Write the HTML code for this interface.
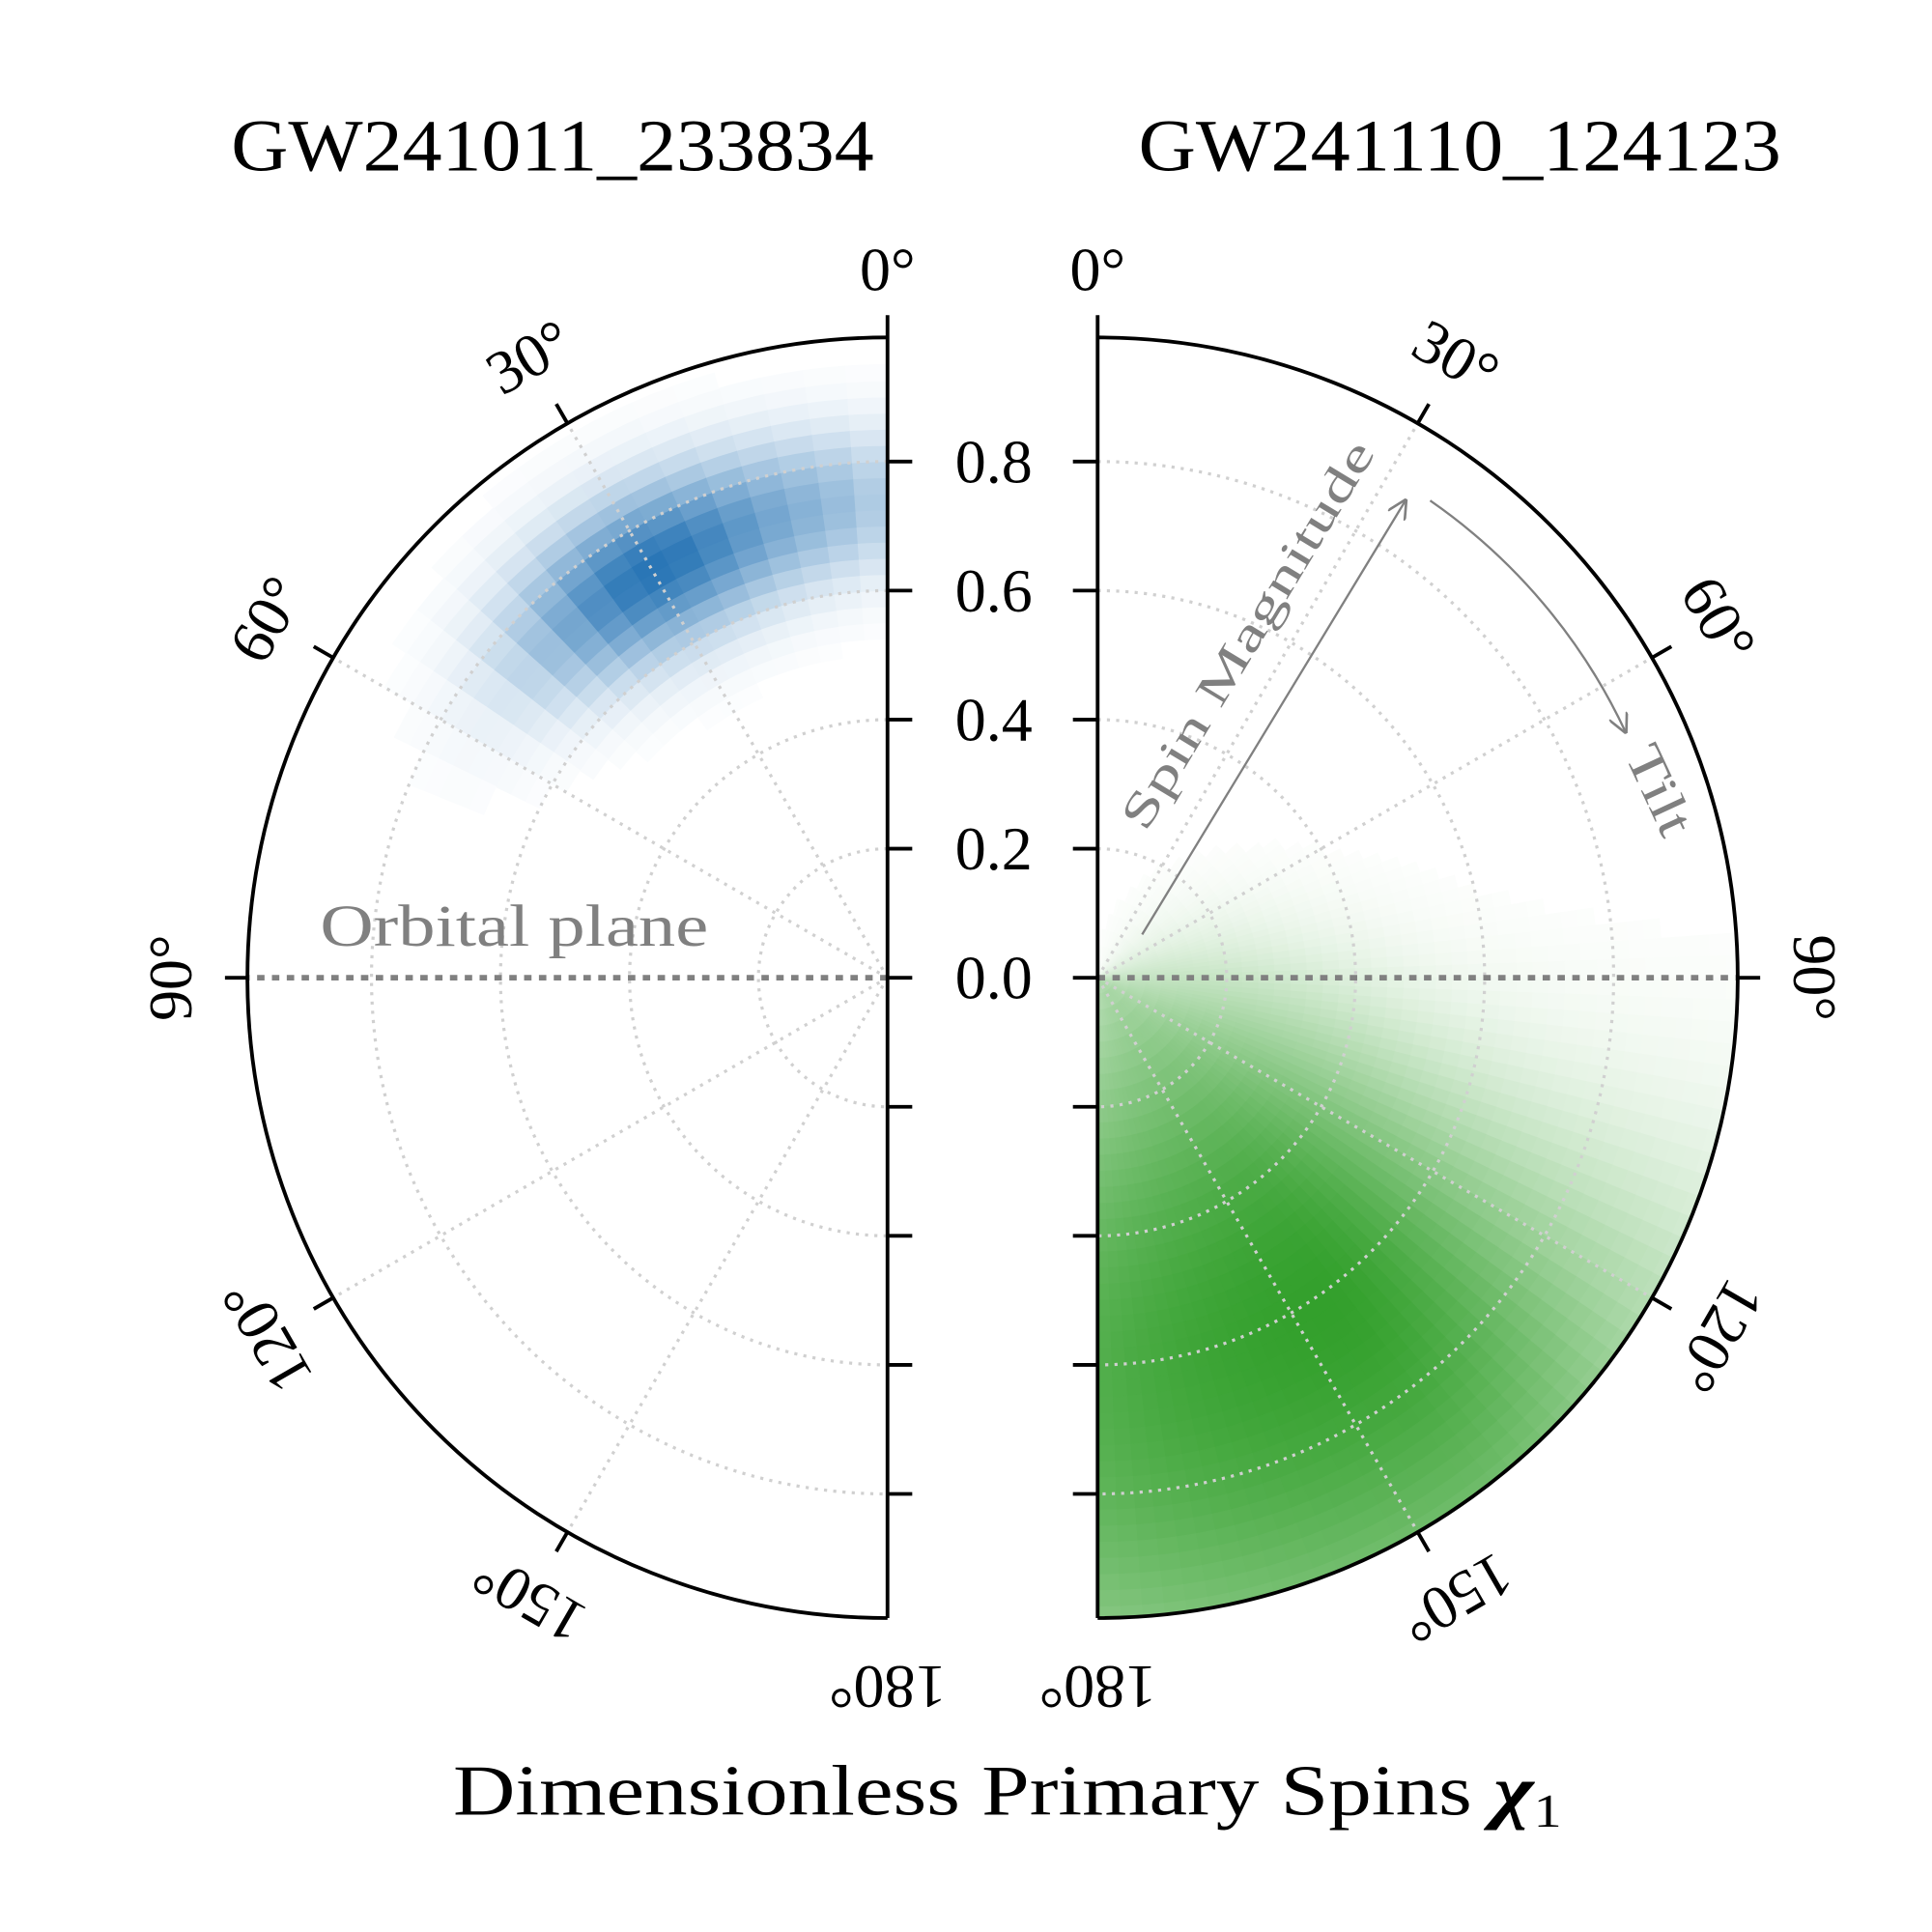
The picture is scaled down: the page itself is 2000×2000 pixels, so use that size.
<!DOCTYPE html>
<html><head><meta charset="utf-8"><style>
html,body{margin:0;padding:0;background:#fff}
svg{display:block}
text{font-family:"Liberation Serif","DejaVu Serif",serif}
</style></head><body>
<svg id="s" width="2000" height="2000" viewBox="0 0 1563 1563" xmlns="http://www.w3.org/2000/svg">
<defs>
<clipPath id="cl"><path d="M718,273 A518,518 0 0 0 718,1309 Z"/></clipPath>
<clipPath id="cr"><path d="M888,273 A518,518 0 0 1 888,1309 Z"/></clipPath>
<marker id="ah" viewBox="0 0 10 10" refX="9" refY="5" markerWidth="16" markerHeight="16" markerUnits="userSpaceOnUse" orient="auto"><path d="M0,0 L10,5 L0,10" fill="none" stroke="#808080" stroke-width="1.3"/></marker>
</defs>
<g id="hl" clip-path="url(#cl)"></g>
<g id="hr" clip-path="url(#cr)"></g>
<g id="g"></g>
<text x="447" y="138" font-size="60" text-anchor="middle" textLength="520" lengthAdjust="spacingAndGlyphs">GW241011_233834</text>
<text x="1181" y="138" font-size="60" text-anchor="middle" textLength="520" lengthAdjust="spacingAndGlyphs">GW241110_124123</text>
<text x="815" y="1468" font-size="58" text-anchor="middle" textLength="897" lengthAdjust="spacingAndGlyphs">Dimensionless Primary Spins <tspan font-weight="bold" font-style="italic">χ</tspan><tspan font-size="38" dy="10">1</tspan></text>
<text x="416" y="765" font-size="48" fill="#808080" text-anchor="middle" textLength="314" lengthAdjust="spacingAndGlyphs">Orbital plane</text>
<text transform="translate(1020,520) rotate(-58.8)" font-size="38" fill="#808080" text-anchor="middle" textLength="360" lengthAdjust="spacingAndGlyphs">Spin Magnitude</text>
<text transform="translate(1330,645) rotate(65)" font-size="42" fill="#808080" text-anchor="middle" textLength="76" lengthAdjust="spacingAndGlyphs">Tilt</text>
<line x1="924" y1="756" x2="1137" y2="405" stroke="#808080" stroke-width="1.8" marker-end="url(#ah)"/>
<path d="M1157,405 A470,470 0 0 1 1315,592" fill="none" stroke="#808080" stroke-width="1.8" marker-end="url(#ah)"/>
</svg>
<script>
var NS="http://www.w3.org/2000/svg",U=522;
function el(p,t,a){var e=document.createElementNS(NS,t);for(var k in a)e.setAttribute(k,a[k]);p.appendChild(e);return e;}
function pt(cx,cy,side,r,th){var a=th*Math.PI/180;return [cx+side*r*Math.sin(a),cy-r*Math.cos(a)];}
function mix(c,v){v=Math.min(v,1);return "rgb("+c.map(function(x){return Math.round(255*(1-v)+x*v)}).join(",")+")";}
function heat(gid,cx,side,col,f,dt){
 var g=document.getElementById(gid),dr=0.025;
 for(var t=0;t<180;t+=dt)for(var r=0;r<1.0;r+=dr){
  var v=f(r+dr/2,t+dt/2);if(v<0.015)continue;
  var r0=r*U,r1=(r+dr)*U;
  var a=pt(cx,791,side,r0,t),b=pt(cx,791,side,r1,t),c=pt(cx,791,side,r1,t+dt),d=pt(cx,791,side,r0,t+dt);
  var sw=side>0?1:0,fc=mix(col,v);
  el(g,"path",{d:"M"+a+"L"+b+"A"+r1+","+r1+" 0 0 "+sw+" "+c+"L"+d+(r0>0?"A"+r0+","+r0+" 0 0 "+(1-sw)+" "+a:"")+"Z",fill:fc,stroke:fc,"stroke-width":0.8});
 }}
heat("hl",718,-1,[31,111,178],function(r,t){
 var a=Math.exp(-Math.pow((t-30)/13,2)/2)*Math.exp(-Math.pow((r-0.73)/0.085,2)/2);
 var b=0.3*Math.exp(-Math.pow((t-5)/9,2)/2)*Math.exp(-Math.pow((r-0.74)/0.08,2)/2);
 return 0.95*(a+b);},4);
heat("hr",888,1,[51,160,44],function(r,t){
 var st=t<145?(21+40*Math.pow(1-r,3)):60;
 var a=Math.exp(-Math.pow((t-145)/st,2)/2);
 var rr=Math.exp(-Math.pow((r-0.62)/0.45,2)/2);
 return 1.0*a*rr;},2);
var g=document.getElementById("g");
function panel(cx,side){
 var cy=791,R=518;
 [0.2,0.4,0.6,0.8].forEach(function(v){var r=v*U;
  el(g,"path",{d:"M"+cx+","+(cy-r)+"A"+r+","+r+" 0 0 "+(side>0?1:0)+" "+cx+","+(cy+r),fill:"none",stroke:"#d0d0d0","stroke-width":2.5,"stroke-dasharray":"2.5,5"});});
 [30,60,120,150].forEach(function(t){var p=pt(cx,cy,side,R,t);
  el(g,"line",{x1:cx,y1:cy,x2:p[0],y2:p[1],stroke:"#d0d0d0","stroke-width":2.5,"stroke-dasharray":"2.5,5"});});
 el(g,"line",{x1:cx,y1:cy,x2:cx+side*R,y2:cy,stroke:"#808080","stroke-width":4.5,"stroke-dasharray":"6,6"});
 el(g,"path",{d:"M"+cx+","+(cy-R)+"A"+R+","+R+" 0 0 "+(side>0?1:0)+" "+cx+","+(cy+R),fill:"none",stroke:"#000","stroke-width":3});
 el(g,"line",{x1:cx,y1:255,x2:cx,y2:1309,stroke:"#000","stroke-width":3});
 for(var i=-4;i<=4;i++){var y=cy-i*0.2*U;el(g,"line",{x1:cx,y1:y,x2:cx-side*20,y2:y,stroke:"#000","stroke-width":3});}
 [30,60,90,120,150].forEach(function(t){var p=pt(cx,cy,side,R,t),q=pt(cx,cy,side,R+18,t);
  el(g,"line",{x1:p[0],y1:p[1],x2:q[0],y2:q[1],stroke:"#000","stroke-width":3});});
 [0,30,60,90,120,150,180].forEach(function(t){
  var p,rot=side*t;
  if(t==0)p=[cx,218];else if(t==180)p=[cx,1365];else p=pt(cx,cy,side,R+62,t);
  var e=el(g,"text",{transform:"translate("+p[0]+","+p[1]+") rotate("+rot+")","font-size":50,"text-anchor":"middle","dominant-baseline":"central"});
  e.textContent=t+"°";});
}
panel(718,-1);panel(888,1);
[0.8,0.6,0.4,0.2,0.0].forEach(function(v){var e=el(g,"text",{x:804,y:791-v*U,"font-size":50,"text-anchor":"middle","dominant-baseline":"central"});e.textContent=v.toFixed(1);});
</script>
</body></html>
